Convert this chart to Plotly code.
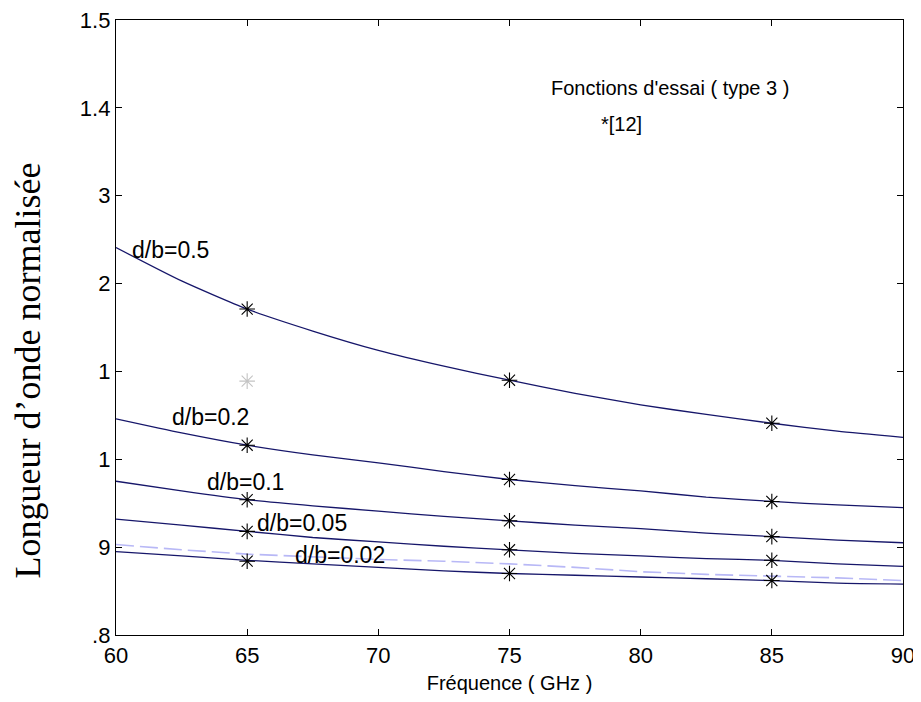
import plotly.graph_objects as go

# Frequencies (GHz) where curves are sampled
freq = [60, 62.5, 65, 67.5, 70, 72.5, 75, 77.5, 80, 82.5, 85, 87.5, 90]

# Normalised wavelength curves (trial functions type 3)
curve_05 = [1.241, 1.203, 1.171, 1.146, 1.124, 1.106, 1.090, 1.075, 1.062, 1.051, 1.041, 1.032, 1.025]
curve_02 = [1.046, 1.030, 1.016, 1.005, 0.996, 0.986, 0.977, 0.970, 0.964, 0.957, 0.952, 0.948, 0.945]
curve_01 = [0.975, 0.964, 0.954, 0.947, 0.941, 0.935, 0.930, 0.925, 0.921, 0.916, 0.912, 0.908, 0.905]
curve_005 = [0.932, 0.925, 0.918, 0.911, 0.906, 0.901, 0.897, 0.893, 0.890, 0.887, 0.885, 0.881, 0.878]
curve_002 = [0.895, 0.890, 0.885, 0.881, 0.877, 0.873, 0.870, 0.868, 0.866, 0.864, 0.862, 0.859, 0.858]
curve_dashed = [0.903, 0.897, 0.892, 0.889, 0.886, 0.884, 0.881, 0.877, 0.872, 0.869, 0.867, 0.865, 0.862]

# Reference [12] points
star_freq = [65, 75, 85]
stars_05 = [1.171, 1.090, 1.041]
stars_02 = [1.016, 0.977, 0.952]
stars_01 = [0.954, 0.930, 0.912]
stars_005 = [0.918, 0.897, 0.885]
stars_002 = [0.884, 0.870, 0.862]
gray_star_freq = [65]
gray_star_val = [1.089]

# Axis ticks (as printed on the original figure)
x_ticks = [60, 65, 70, 75, 80, 85, 90]
y_tickvals = [0.8, 0.9, 1.0, 1.1, 1.2, 1.3, 1.4, 1.5]
y_ticktext = [".8", "9", "1", "1", "2", "3", "1.4", "1.5"]

curve_labels = ["d/b=0.5", "d/b=0.2", "d/b=0.1", "d/b=0.05", "d/b=0.02"]
label_x = [60.55, 62.05, 63.4, 65.3, 66.75]
label_y = [1.238, 1.048, 0.974, 0.928, 0.891]

NAVY = "#16166a"
FONT = "Liberation Sans, Arial, sans-serif"

fig = go.Figure()

fig.add_trace(go.Scatter(x=freq, y=curve_dashed, mode="lines",
                         line=dict(color="#b8b8f6", width=1.6, dash="18px,6px"),
                         showlegend=False))
for c in [curve_05, curve_02, curve_01, curve_005, curve_002]:
    fig.add_trace(go.Scatter(x=freq, y=c, mode="lines",
                             line=dict(color=NAVY, width=1.3, shape="spline", smoothing=0.6),
                             showlegend=False))
for s in [stars_05, stars_02, stars_01, stars_005, stars_002]:
    fig.add_trace(go.Scatter(x=star_freq, y=s, mode="markers",
                             marker=dict(symbol="asterisk-open", size=13,
                                         color="black",
                                         line=dict(color="black", width=1.1)),
                             showlegend=False))
fig.add_trace(go.Scatter(x=gray_star_freq, y=gray_star_val, mode="markers",
                         marker=dict(symbol="asterisk-open", size=13,
                                     color="#c4c4c4",
                                     line=dict(color="#c4c4c4", width=1.1)),
                         showlegend=False))

annotations = []
for t, xx, yy in zip(curve_labels, label_x, label_y):
    annotations.append(dict(x=xx, y=yy, xref="x", yref="y", text=t,
                            showarrow=False, xanchor="left", yanchor="middle",
                            font=dict(family=FONT, size=23, color="black")))
annotations.append(dict(x=76.5, y=1.423, xref="x", yref="y",
                        text="Fonctions d'essai ( type 3 )", showarrow=False,
                        xanchor="left", yanchor="middle",
                        font=dict(family=FONT, size=20, color="black")))
annotations.append(dict(x=78.4, y=1.382, xref="x", yref="y",
                        text="*[12]", showarrow=False,
                        xanchor="left", yanchor="middle",
                        font=dict(family=FONT, size=20, color="black")))
annotations.append(dict(x=-0.112, y=0.43, xref="paper", yref="paper",
                        text="Longueur d\u2019onde normalisée", showarrow=False,
                        textangle=-90, xanchor="center", yanchor="middle",
                        font=dict(family="Liberation Serif, Times New Roman, serif",
                                  size=36, color="black")))

fig.update_layout(
    width=913, height=686,
    margin=dict(l=108, r=18, t=12, b=59),
    plot_bgcolor="white", paper_bgcolor="white",
    annotations=annotations,
    font=dict(family=FONT, size=20, color="black"),
)
fig.update_xaxes(range=[60, 90], tickvals=x_ticks, automargin=False,
                 ticklabeloverflow="allow",
                 ticks="inside", ticklen=6, tickcolor="black",
                 showline=True, linecolor="black", linewidth=1.3, mirror="ticks",
                 showgrid=False, zeroline=False,
                 title=dict(text="Fréquence ( GHz )", standoff=11,
                            font=dict(family=FONT, size=20)),
                 tickfont=dict(family=FONT, size=22))
fig.update_yaxes(range=[0.8, 1.5], tickvals=y_tickvals, ticktext=y_ticktext,
                 automargin=False, ticklabeloverflow="allow",
                 ticks="inside", ticklen=6, tickcolor="black",
                 showline=True, linecolor="black", linewidth=1.3, mirror="ticks",
                 showgrid=False, zeroline=False,
                 tickfont=dict(family=FONT, size=22))

fig.write_html("out.html")
